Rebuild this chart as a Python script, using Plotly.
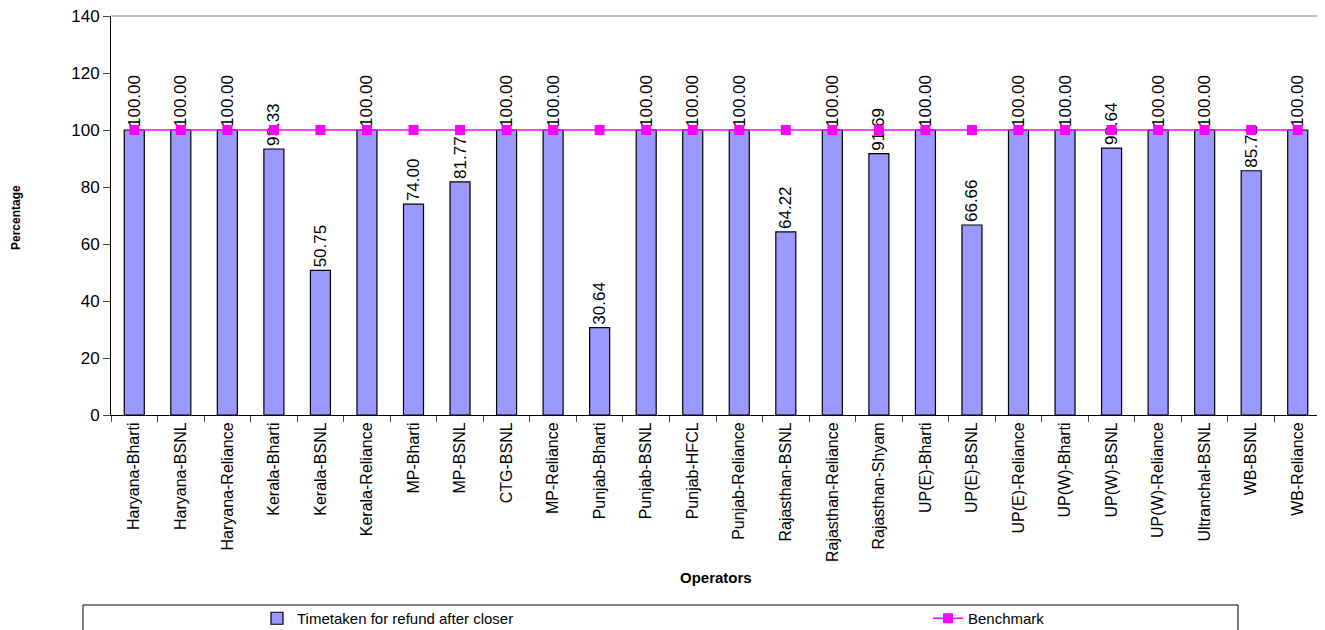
import plotly.graph_objects as go

operators = ["Haryana-Bharti", "Haryana-BSNL", "Haryana-Reliance", "Kerala-Bharti", "Kerala-BSNL",
             "Kerala-Reliance", "MP-Bharti", "MP-BSNL", "CTG-BSNL", "MP-Reliance", "Punjab-Bharti",
             "Punjab-BSNL", "Punjab-HFCL", "Punjab-Reliance", "Rajasthan-BSNL", "Rajasthan-Reliance",
             "Rajasthan-Shyam", "UP(E)-Bharti", "UP(E)-BSNL", "UP(E)-Reliance", "UP(W)-Bharti",
             "UP(W)-BSNL", "UP(W)-Reliance", "Ultranchal-BSNL", "WB-BSNL", "WB-Reliance"]
refund_pct = [100.00, 100.00, 100.00, 93.33, 50.75, 100.00, 74.00, 81.77, 100.00, 100.00, 30.64,
              100.00, 100.00, 100.00, 64.22, 100.00, 91.69, 100.00, 66.66, 100.00, 100.00, 93.64,
              100.00, 100.00, 85.71, 100.00]
benchmark = [100] * len(operators)
y_ticks = [0, 20, 40, 60, 80, 100, 120, 140]

FONT = "Liberation Sans, Arial, sans-serif"
OFF = 8  # default body margin of the html page
W, H = 1325 - OFF, 630 - OFF
# plot area in page pixels: x 111..1321, y 16..415
L = 111 - OFF
T = 16 - OFF
PW = 1210
PH = 415 - 16
R = W - L - PW
B = H - T - PH


def px_x(px):
    return (px - OFF - L) / PW


def px_y(py):
    return (T + PH - (py - OFF)) / PH


fig = go.Figure()
fig.add_trace(go.Bar(
    x=operators, y=refund_pct, name="Timetaken for refund after closer",
    marker=dict(color="#9999FF", line=dict(color="#000000", width=1.2)),
    width=0.43,
    text=[f"{v:.2f}" for v in refund_pct], textposition="outside", textangle=-90,
    textfont=dict(family=FONT, size=17, color="#000000"),
    constraintext="none", cliponaxis=False, legend="legend",
))
fig.add_trace(go.Scatter(
    x=operators, y=benchmark, name="Benchmark", mode="lines+markers",
    line=dict(color="#FF00FF", width=1.5),
    marker=dict(symbol="square", size=10, color="#FF00FF"),
    legend="legend2",
))

fig.update_layout(
    width=W, height=H,
    margin=dict(l=L, r=R, t=T, b=B, autoexpand=False),
    plot_bgcolor="#FFFFFF", paper_bgcolor="#FFFFFF",
    font=dict(family=FONT, size=13, color="#000000"),
    showlegend=True,
    legend=dict(x=px_x(257), y=px_y(602), xanchor="left", yanchor="top",
                font=dict(family=FONT, size=15), bgcolor="rgba(0,0,0,0)"),
    legend2=dict(x=px_x(928), y=px_y(602), xanchor="left", yanchor="top",
                 font=dict(family=FONT, size=15), bgcolor="rgba(0,0,0,0)"),
    shapes=[dict(type="rect", xref="paper", yref="paper", x0=px_x(83), x1=px_x(1238),
                 y0=px_y(605), y1=px_y(640), line=dict(color="#000000", width=1)),
            dict(type="line", xref="paper", yref="paper", x0=0, x1=1, y0=1, y1=1,
                 line=dict(color="#808080", width=1)),
            dict(type="line", xref="paper", yref="paper", x0=1, x1=1, y0=0, y1=1,
                 line=dict(color="#808080", width=1))],
    annotations=[
        dict(text="<b>Percentage</b>", xref="paper", yref="paper", x=px_x(16), y=px_y(218),
             xanchor="center", yanchor="middle",
             textangle=-90, showarrow=False, font=dict(family=FONT, size=12)),
        dict(text="<b>Operators</b>", xref="paper", yref="paper", x=px_x(716), y=px_y(577),
             xanchor="center", showarrow=False, font=dict(family=FONT, size=15), yanchor="middle"),
    ],
)
fig.update_yaxes(range=[0, 140], tickvals=y_ticks, ticks="outside", ticklen=7,
                 showgrid=False, showline=True, linecolor="#000000", linewidth=1,
                 tickfont=dict(family=FONT, size=17), zeroline=False, automargin=False,
                 ticklabeloverflow="allow")
fig.update_xaxes(range=[-0.5, len(operators) - 0.5], tickangle=-90, ticks="outside",
                 tickson="boundaries", ticklen=6,
                 showline=True, linecolor="#000000", linewidth=1, showgrid=False,
                 tickfont=dict(family=FONT, size=16), automargin=False)

fig.write_html("out.html")
